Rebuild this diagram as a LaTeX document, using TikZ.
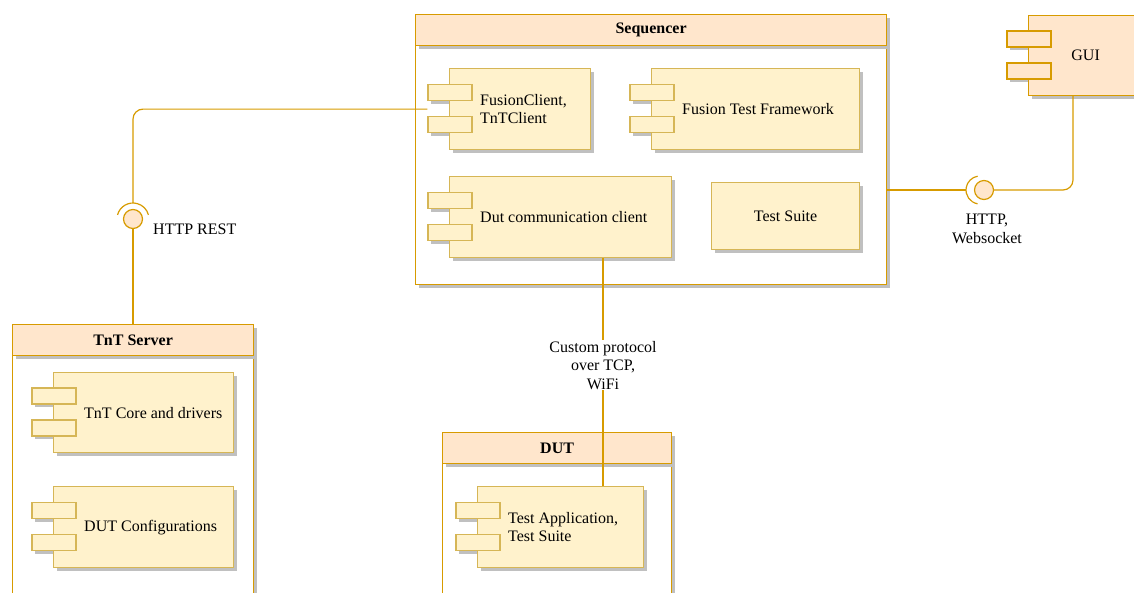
\documentclass[tikz,border=0pt]{standalone}
\usepackage{fontspec}
\setmainfont{Liberation Serif}
\usetikzlibrary{shadows}
\definecolor{compfill}{HTML}{FFF2CC}
\definecolor{compline}{HTML}{D6B656}
\definecolor{hdrfill}{HTML}{FFE6CC}
\definecolor{hdrline}{HTML}{D79B00}
\definecolor{shade}{HTML}{C0C0C0}

% component with two ports: name, left, top, width, height, text
\newcommand{\umlcomp}[6]{%
  \foreach \dy in {-16,16}
    \node[port, dshadow] at ({#2+1},{#3+#5/2+\dy}) {};
  \node[compbody, dshadow, minimum width=#4, minimum height=#5] (#1) at (#2,#3) {};
  \node[port] (#1p1) at ({#2+1},{#3+#5/2-16}) {};
  \node[port] (#1p2) at ({#2+1},{#3+#5/2+16}) {};
  \node[comptext] (#1t) at ([xshift=31pt]#1.west) {#6};
}

\begin{document}
\begin{tikzpicture}[x=1pt, y=-1pt,
  every node/.style={font=\fontsize{16}{18.5}\selectfont},
  dshadow/.style={drop shadow={shadow xshift=3pt, shadow yshift=-3pt, fill=shade, opacity=1}},
  hdr/.style={draw=hdrline, fill=hdrfill, line width=1.2pt, anchor=north west,
    minimum height=31, inner sep=0pt, font=\fontsize{16}{18.5}\selectfont\bfseries, dshadow},
  contbody/.style={draw=hdrline, fill=white, line width=1.2pt, anchor=north west, inner sep=0pt, dshadow},
  compbody/.style={draw=compline, fill=compfill, line width=1.2pt, anchor=north west, inner sep=0pt},
  port/.style={draw=compline, fill=compfill, line width=1.2pt, minimum width=44, minimum height=16, inner sep=0pt},
  comptext/.style={anchor=west, align=left, inner sep=0pt},
  wire/.style={draw=hdrline, line width=1.2pt},
  ball/.style={circle, draw=hdrline, fill=hdrfill, line width=1.2pt, minimum size=19, inner sep=0pt},
  lbl/.style={align=center, inner sep=1pt}]
  \useasboundingbox (0,0) rectangle (1134,592);

  % containers
  \node[contbody, minimum width=471, minimum height=239] (seqbody) at (415,45) {};
  \node[hdr, minimum width=471] (seqhead) at (415,14) {Sequencer};
  \node[contbody, minimum width=241, minimum height=265] (tntbody) at (12,355) {};
  \node[hdr, minimum width=241] (tnthead) at (12,324) {TnT Server};
  \node[contbody, minimum width=229, minimum height=160] (dutbody) at (442,463) {};
  \node[hdr, minimum width=229] (duthead) at (442,432) {DUT};

  % components
  \umlcomp{fc}{449}{68}{141}{81}{FusionClient,\\TnTClient}
  \umlcomp{ftf}{651}{68}{208}{81}{Fusion Test Framework}
  \umlcomp{dcc}{449}{176}{222}{81}{Dut communication client}
  \node[compbody, dshadow, minimum width=148, minimum height=67] (tsuite) at (711,182) {};
  \node (tsuitet) at (tsuite.center) {Test Suite};
  \umlcomp{tntcore}{53}{372}{180}{80}{TnT Core and drivers}
  \umlcomp{dutcfg}{53}{486}{180}{81}{DUT Configurations}
  \umlcomp{testapp}{477}{486}{166}{81}{Test Application,\\Test Suite}

  % GUI
  \foreach \dy in {-16,16}
    \node[port, draw=hdrline, fill=hdrfill, dshadow] at (1029,{55+\dy}) {};
  \node[compbody, draw=hdrline, fill=hdrfill, dshadow, minimum width=114, minimum height=80] (gui) at (1028,15) {};
  \node[port, draw=hdrline, fill=hdrfill] (guip1) at (1029,39) {};
  \node[port, draw=hdrline, fill=hdrfill] (guip2) at (1029,71) {};
  \node (guit) at (gui.center) {GUI};

  % HTTP REST
  \coordinate (fcout) at (fcp1.west |- fc.west);
  \coordinate (restsock) at (133,203);
  \node[ball] (restball) at (133,219) {};
  \draw[wire] ([shift={(195:16)}]restball.center) arc[start angle=195, end angle=345, radius=16];
  \draw[wire, rounded corners=10] (fcout) -| (restsock);
  \draw[wire] (restball.south) -- (restball.south |- tnthead.north);
  \node[lbl, anchor=west] (restlbl) at (152,229) {HTTP REST};

  % HTTP, Websocket
  \coordinate (guisock) at (966,190);
  \coordinate (guiarc) at (980,190);
  \node[ball] (guiball) at (984,190) {};
  \draw[wire] ([shift={(100:14)}]guiarc) arc[start angle=100, end angle=260, radius=14];
  \draw[wire] (guisock -| seqbody.east) -- (guisock);
  \coordinate (guiout) at ([xshift=45pt]gui.south west);
  \draw[wire, rounded corners=10] (guiball.east) -| (guiout);
  \node[lbl] (wslbl) at (987,229) {HTTP,\\Websocket};

  % DUT link
  \coordinate (dccout) at ([xshift=154pt]dcc.south west);
  \draw[wire] (dccout) -- node[lbl, fill=white, pos=0.47] (tcplbl) {Custom protocol\\over TCP,\\WiFi} (dccout |- testapp.north);
\end{tikzpicture}
\end{document}
